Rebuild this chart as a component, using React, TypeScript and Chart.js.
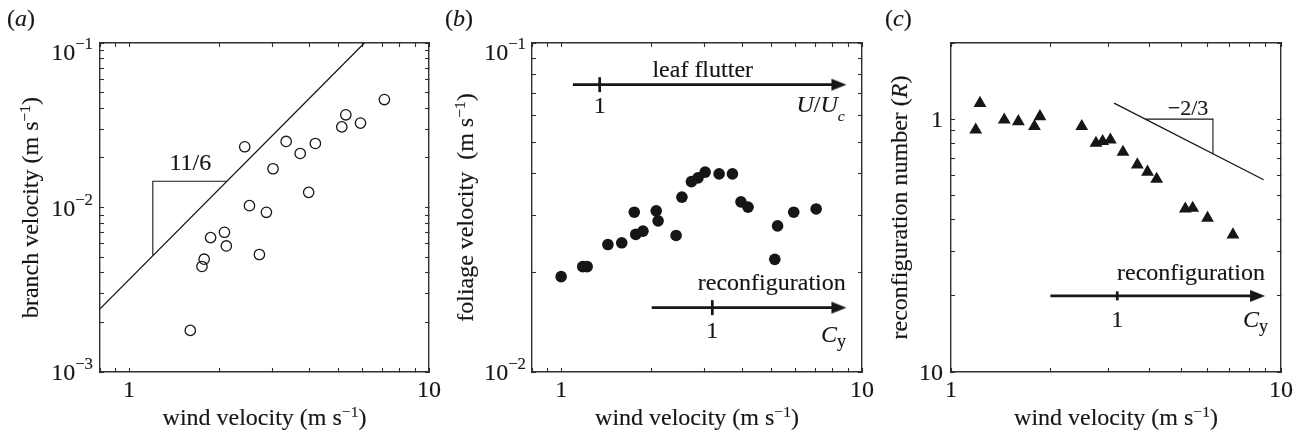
import React, { useEffect, useRef } from 'react';
import { Chart, registerables } from 'chart.js';

Chart.register(...registerables);

const FONT = '"Liberation Serif", "Times New Roman", Times, serif';
const INK = '#161616';
const FRAME = '#303030';
const FS = 24;

// ---------- Panel (a): branch velocity ----------
const aWind = [1.60, 1.75, 1.78, 1.87, 2.08, 2.11, 2.43, 2.52, 2.72, 2.87, 3.02, 3.34, 3.72, 3.97, 4.18, 5.12, 5.28, 5.91, 7.10];
const aBranch = [0.00179, 0.00438, 0.00485, 0.00656, 0.00707, 0.00584, 0.0234, 0.01026, 0.00518, 0.00935, 0.0172, 0.0252, 0.0213, 0.01236, 0.0245, 0.0309, 0.0366, 0.0326, 0.0453];
const aFitWind = [0.8, 6.09];
const aFitBranch = [0.00242, 0.1];
const aSlopeWind = [1.2, 1.2, 2.12];
const aSlopeBranch = [0.0051, 0.01445, 0.01445];

// ---------- Panel (b): foliage velocity ----------
const bWind = [1.00, 1.18, 1.22, 1.43, 1.59, 1.75, 1.77, 1.87, 2.07, 2.10, 2.41, 2.52, 2.71, 2.85, 3.01, 3.35, 3.71, 3.96, 4.18, 5.13, 5.24, 5.93, 7.04];
const bFoliage = [0.0195, 0.0209, 0.0209, 0.0244, 0.0247, 0.0306, 0.0262, 0.0268, 0.0309, 0.0288, 0.0260, 0.0340, 0.0379, 0.0389, 0.0405, 0.0400, 0.0400, 0.0329, 0.0317, 0.0220, 0.0278, 0.0306, 0.0313];
const bFlutterArrowWind = [1.094, 1.343, 8.54];
const bFlutterArrowY = [0.0747, 0.0747, 0.0747];
const bReconArrowWind = [2.0, 3.18, 8.54];
const bReconArrowY = [0.01569, 0.01569, 0.01569];

// ---------- Panel (c): reconfiguration number ----------
const cWind = [1.188, 1.224, 1.45, 1.60, 1.79, 1.86, 2.49, 2.75, 2.88, 3.04, 3.32, 3.67, 3.94, 4.20, 5.13, 5.40, 5.99, 7.15];
const cR = [0.907, 1.156, 0.994, 0.979, 0.936, 1.024, 0.936, 0.804, 0.817, 0.828, 0.741, 0.660, 0.618, 0.579, 0.442, 0.445, 0.406, 0.349];
const cSlopeLineWind = [3.12, 8.86];
const cSlopeLineR = [1.157, 0.576];
const cSlopeTriWind = [3.88, 6.22, 6.22];
const cSlopeTriR = [1, 1, 0.73];
const cArrowWind = [2.0, 3.19, 8.64];
const cArrowR = [0.2, 0.2, 0.2];

// ---------- Tick labels ----------
const xTickValues = [1, 10];
const xTickLabels = ['1', '10'];
const aYTickValues = [0.001, 0.01, 0.1];
const aYTickExps = ['\u22123', '\u22122', '\u22121'];
const bYTickValues = [0.01, 0.1];
const bYTickExps = ['\u22122', '\u22121'];
const cYTickValues = [0.1, 1];
const cYTickLabels = ['10', '1'];

type Seg = { t: string; it?: boolean; sc?: number; dy?: number };

const pts = (xs: number[], ys: number[]) => xs.map((x, i) => ({ x, y: ys[i] }));

function logTicks(min: number, max: number) {
  const out: number[] = [];
  for (let e = -4; e <= 2; e++) {
    for (let k = 1; k <= 9; k++) {
      const v = +(k * Math.pow(10, e)).toPrecision(6);
      if (v >= min * 0.9999 && v <= max * 1.0001) out.push(v);
    }
  }
  return out;
}

function fontOf(size: number, it?: boolean) {
  return `${it ? 'italic ' : ''}${size}px ${FONT}`;
}

function drawRich(ctx: CanvasRenderingContext2D, segs: Seg[], x: number, y: number, size: number, align: 'left' | 'center' | 'right', rot = 0) {
  ctx.save();
  ctx.translate(x, y);
  if (rot) ctx.rotate(rot);
  let w = 0;
  for (const s of segs) {
    ctx.font = fontOf(size * (s.sc ?? 1), s.it);
    w += ctx.measureText(s.t).width;
  }
  let cx = align === 'left' ? 0 : align === 'center' ? -w / 2 : -w;
  ctx.textAlign = 'left';
  ctx.textBaseline = 'alphabetic';
  ctx.fillStyle = INK;
  ctx.strokeStyle = INK;
  ctx.lineWidth = 0.15;
  for (const s of segs) {
    ctx.font = fontOf(size * (s.sc ?? 1), s.it);
    ctx.fillText(s.t, cx, s.dy ?? 0);
    ctx.strokeText(s.t, cx, s.dy ?? 0);
    cx += ctx.measureText(s.t).width;
  }
  ctx.restore();
}

function makeArrowHead() {
  const c = document.createElement('canvas');
  c.width = 40;
  c.height = 14;
  const g = c.getContext('2d')!;
  g.fillStyle = INK;
  g.beginPath();
  g.moveTo(25, 7);
  g.lineTo(10, 1);
  g.lineTo(10, 13);
  g.closePath();
  g.fill();
  return c;
}

interface Note { x: number; y: number; segs: Seg[]; align: 'left' | 'center' | 'right'; size?: number }
interface Spec {
  left: number; width: number;
  xMin: number; xMax: number; yMin: number; yMax: number;
  yAxisWidth: number; rightPad: number;
  datasets: any[];
  label: Seg[]; labelX: number;
  yTitle: Seg[]; yTitleX: number;
  xTitle: Seg[];
  yTicks: { v: number; segs: Seg[] }[]; yTickGap: number;
  notes: Note[];
}

const sup = (t: string): Seg => ({ t, sc: 0.7, dy: -11 });
const titleSup: Seg = { t: '\u22121', sc: 0.65, dy: -8 };
const xTitle: Seg[] = [{ t: 'wind velocity (m s' }, titleSup, { t: ')' }];

function axis(position: string, min: number, max: number, size: number | null) {
  const ticks = logTicks(min, max);
  const horizontal = position === 'top' || position === 'bottom';
  return {
    type: 'logarithmic',
    position,
    min,
    max,
    afterBuildTicks: (s: any) => {
      s.ticks = ticks.map((v) => ({ value: v }));
    },
    afterFit: (s: any) => {
      if (horizontal) s.height = size ?? 0;
      else s.width = size ?? 0;
    },
    ticks: { display: false, autoSkip: false },
    grid: { drawOnChartArea: false, drawTicks: true, tickLength: -4, tickColor: FRAME, tickWidth: 1.1 },
    border: { display: true, color: FRAME, width: 1.4 },
  };
}

function arrowDataset(xs: number[], ys: number[], head: HTMLCanvasElement, tickR: number) {
  return {
    data: pts(xs, ys),
    showLine: true,
    borderColor: INK,
    borderWidth: 2.7,
    pointStyle: ['circle', 'line', head],
    pointRadius: [0, tickR, 1],
    pointRotation: [0, 90, 0],
    pointBorderWidth: [0, 2.7, 0],
    pointBorderColor: INK,
    pointBackgroundColor: INK,
  };
}

function lineDataset(xs: number[], ys: number[], w: number) {
  return { data: pts(xs, ys), showLine: true, borderColor: INK, borderWidth: w, pointRadius: 0, fill: false };
}

function buildSpecs(head: HTMLCanvasElement): Spec[] {
  const a: Spec = {
    left: 0, width: 445,
    xMin: 0.8, xMax: 10, yMin: 0.001, yMax: 0.1,
    yAxisWidth: 100, rightPad: 16,
    datasets: [
      {
        data: pts(aWind, aBranch),
        pointStyle: 'circle', pointRadius: 5.2, pointBorderWidth: 1.3,
        pointBorderColor: INK, pointBackgroundColor: 'rgba(0,0,0,0)',
      },
      lineDataset(aFitWind, aFitBranch, 1.3),
      lineDataset(aSlopeWind, aSlopeBranch, 1.1),
    ],
    label: [{ t: '(' }, { t: 'a', it: true }, { t: ')' }], labelX: 7,
    yTitle: [{ t: 'branch velocity (m s' }, titleSup, { t: ')' }], yTitleX: 37.5,
    xTitle,
    yTicks: aYTickValues.map((v, i) => ({ v, segs: [{ t: '10' }, sup(aYTickExps[i])] })), yTickGap: 7,
    notes: [{ x: 1.6, y: 0.01694, segs: [{ t: '11/6' }], align: 'center' }],
  };
  const b: Spec = {
    left: 430, width: 445,
    xMin: 0.8, xMax: 10, yMin: 0.01, yMax: 0.1,
    yAxisWidth: 102, rightPad: 13,
    datasets: [
      {
        data: pts(bWind, bFoliage),
        pointStyle: 'circle', pointRadius: 5.8, pointBorderWidth: 0,
        pointBackgroundColor: INK, pointBorderColor: INK,
      },
      arrowDataset(bFlutterArrowWind, bFlutterArrowY, head, 7.5),
      arrowDataset(bReconArrowWind, bReconArrowY, head, 7.5),
    ],
    label: [{ t: '(' }, { t: 'b', it: true }, { t: ')' }], labelX: 15,
    yTitle: [{ t: 'foliage velocity  (m s' }, titleSup, { t: ')' }], yTitleX: 42.5,
    xTitle,
    yTicks: bYTickValues.map((v, i) => ({ v, segs: [{ t: '10' }, sup(bYTickExps[i])] })), yTickGap: 6,
    notes: [
      { x: 2.955, y: 0.0788, segs: [{ t: 'leaf flutter' }], align: 'center' },
      { x: 1.343, y: 0.0613, segs: [{ t: '1' }], align: 'center' },
      { x: 8.76, y: 0.0617, segs: [{ t: 'U', it: true }, { t: '/' }, { t: 'U', it: true }, { t: 'c', it: true, sc: 0.65, dy: 9 }], align: 'right' },
      { x: 8.83, y: 0.01775, segs: [{ t: 'reconfiguration' }], align: 'right' },
      { x: 3.18, y: 0.01269, segs: [{ t: '1' }], align: 'center' },
      { x: 8.85, y: 0.01234, segs: [{ t: 'C', it: true }, { t: 'y', sc: 0.75, dy: 5 }], align: 'right' },
    ],
  };
  const c: Spec = {
    left: 860, width: 443,
    xMin: 1, xMax: 10, yMin: 0.1, yMax: 2,
    yAxisWidth: 91, rightPad: 22,
    datasets: [
      {
        data: pts(cWind, cR),
        pointStyle: 'triangle', pointRadius: 7.4, pointBorderWidth: 0,
        pointBackgroundColor: INK, pointBorderColor: INK,
      },
      lineDataset(cSlopeLineWind, cSlopeLineR, 1.3),
      lineDataset(cSlopeTriWind, cSlopeTriR, 1.1),
      arrowDataset(cArrowWind, cArrowR, head, 4.5),
    ],
    label: [{ t: '(' }, { t: 'c', it: true }, { t: ')' }], labelX: 25,
    yTitle: [{ t: 'reconfiguration number (' }, { t: 'R', it: true }, { t: ')' }], yTitleX: 47,
    xTitle,
    yTicks: cYTickValues.map((v, i) => ({ v, segs: [{ t: cYTickLabels[i] }] })), yTickGap: 8,
    notes: [
      { x: 8.94, y: 0.2317, segs: [{ t: 'reconfiguration' }], align: 'right' },
      { x: 3.19, y: 0.151, segs: [{ t: '1' }], align: 'center' },
      { x: 9.13, y: 0.151, segs: [{ t: 'C', it: true }, { t: 'y', sc: 0.75, dy: 5 }], align: 'right' },
      { x: 5.23, y: 1.04, segs: [{ t: '\u22122/3' }], align: 'center', size: 22 },
    ],
  };
  return [a, b, c];
}

function makeChart(canvas: HTMLCanvasElement, s: Spec) {
  const textPlugin = {
    id: 'richText',
    afterDraw(chart: any) {
      const ctx: CanvasRenderingContext2D = chart.ctx;
      const ca = chart.chartArea;
      const xs = chart.scales.x;
      const ys = chart.scales.y;
      drawRich(ctx, s.label, s.labelX, 26, FS, 'left');
      for (const k of s.yTicks) {
        const py = ys.getPixelForValue(k.v);
        const base = Math.max(py + 8, ca.top + 17);
        drawRich(ctx, k.segs, ca.left - s.yTickGap, base, FS, 'right');
      }
      xTickValues.forEach((v, i) => {
        drawRich(ctx, [{ t: xTickLabels[i] }], xs.getPixelForValue(v), ca.bottom + 25, FS, 'center');
      });
      drawRich(ctx, s.xTitle, (ca.left + ca.right) / 2, ca.bottom + 52.5, FS, 'center');
      drawRich(ctx, s.yTitle, s.yTitleX, (ca.top + ca.bottom) / 2, FS, 'center', -Math.PI / 2);
      for (const n of s.notes) {
        drawRich(ctx, n.segs, xs.getPixelForValue(n.x), ys.getPixelForValue(n.y), n.size ?? FS, n.align);
      }
    },
  };
  return new Chart(canvas, {
    type: 'scatter',
    data: { datasets: s.datasets },
    options: {
      responsive: false,
      animation: false,
      devicePixelRatio: 1,
      events: [],
      layout: { padding: { left: 0, top: 43, right: s.rightPad, bottom: 0 } },
      plugins: { legend: { display: false }, tooltip: { enabled: false } },
      scales: {
        x: axis('bottom', s.xMin, s.xMax, 65),
        x2: axis('top', s.xMin, s.xMax, 0),
        y: axis('left', s.yMin, s.yMax, s.yAxisWidth),
        y2: axis('right', s.yMin, s.yMax, 0),
      } as any,
    },
    plugins: [textPlugin],
  } as any);
}

export default function App() {
  const refA = useRef<HTMLCanvasElement>(null);
  const refB = useRef<HTMLCanvasElement>(null);
  const refC = useRef<HTMLCanvasElement>(null);

  useEffect(() => {
    const head = makeArrowHead();
    const specs = buildSpecs(head);
    const charts = [refA, refB, refC].map((r, i) => makeChart(r.current!, specs[i]));
    return () => charts.forEach((c) => c.destroy());
  }, []);

  const cv = (left: number, width: number) => ({
    position: 'absolute' as const, left, top: 0, width, height: 437, display: 'block',
  });

  return (
    <div style={{ position: 'fixed', left: 0, top: 0, width: 1303, height: 437, background: '#fff', overflow: 'hidden' }}>
      <canvas ref={refA} width={445} height={437} style={cv(0, 445)} />
      <canvas ref={refB} width={445} height={437} style={cv(430, 445)} />
      <canvas ref={refC} width={443} height={437} style={cv(860, 443)} />
    </div>
  );
}
